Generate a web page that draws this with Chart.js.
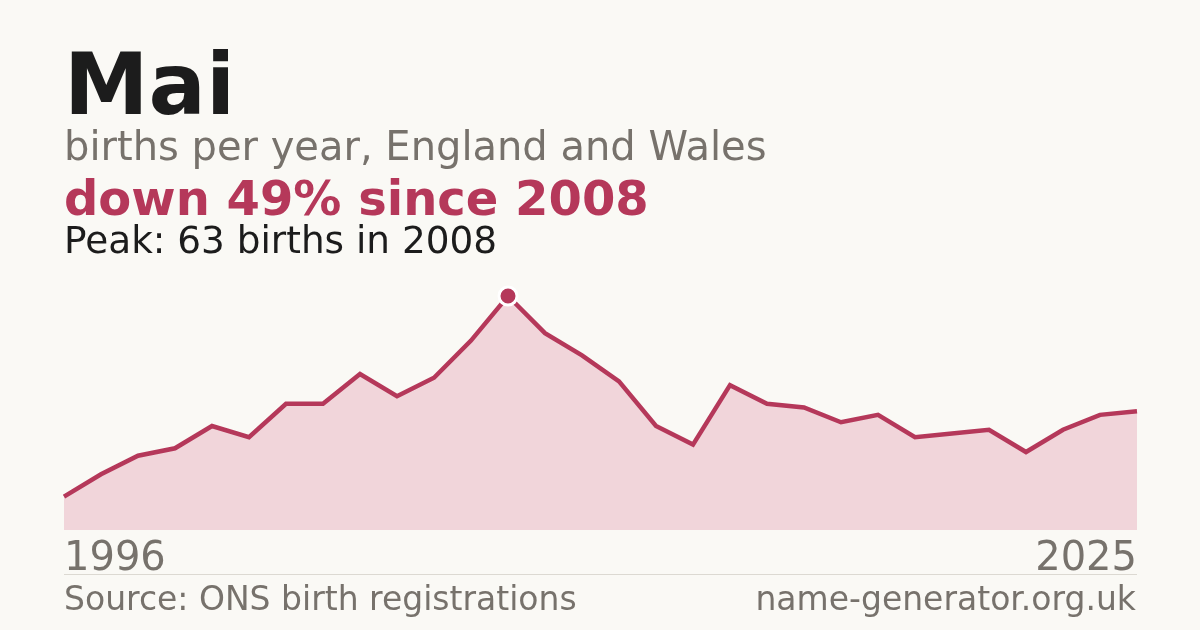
<!DOCTYPE html>
<html>
<head>
  <title>Mai - births per year</title>
  <script src="https://cdn.jsdelivr.net/npm/chart.js"></script>
  <style>
    html, body { margin: 0; padding: 0; }
    body { width: 1200px; height: 630px; background: #faf9f5; font-family: "DejaVu Sans", sans-serif; position: relative; overflow: hidden; }
    .t { position: absolute; left: 64px; white-space: nowrap; line-height: 1; }
    #title { top: 42px; font-size: 85px; font-weight: bold; color: #1c1c1c; }
    #sub { top: 126px; font-size: 40px; color: #77726c; }
    #change { top: 174px; font-size: 48px; font-weight: bold; color: #b5385a; }
    #peak { top: 222px; font-size: 37.4px; color: #1c1c1c; }
    #rule { position: absolute; left: 64px; width: 1073px; top: 574px; height: 1px; background: #dcd9d2; }
    #src { top: 582px; font-size: 33px; color: #77726c; }
    #site { top: 582px; left: auto; right: 64px; font-size: 33px; color: #77726c; }
    #wrap { position: absolute; left: 0; top: 0; width: 1200px; height: 630px; }
  </style>
</head>
<body>
  <div id="wrap"><canvas id="chart" width="1200" height="630"></canvas></div>
  <div class="t" id="title">Mai</div>
  <div class="t" id="sub">births per year, England and Wales</div>
  <div class="t" id="change">down 49% since 2008</div>
  <div class="t" id="peak">Peak: 63 births in 2008</div>
  <div id="rule"></div>
  <div class="t" id="src">Source: ONS birth registrations</div>
  <div class="t" id="site">name-generator.org.uk</div>

  <script>
    const years = [1996, 1997, 1998, 1999, 2000, 2001, 2002, 2003, 2004, 2005,
                   2006, 2007, 2008, 2009, 2010, 2011, 2012, 2013, 2014, 2015,
                   2016, 2017, 2018, 2019, 2020, 2021, 2022, 2023, 2024, 2025];
    const births = [9, 15, 20, 22, 28, 25, 34, 34, 42, 36,
                    41, 51, 63, 53, 47, 40, 28, 23, 39, 34,
                    33, 29, 31, 25, 26, 27, 21, 27, 31, 32];
    const shownYears = [1996, 2025];

    const peakIdx = births.indexOf(Math.max(...births));

    new Chart(document.getElementById('chart'), {
      type: 'line',
      data: {
        labels: years,
        datasets: [{
          data: births,
          borderColor: '#b5385a',
          borderWidth: 4.5,
          backgroundColor: '#f1d5da',
          fill: 'origin',
          tension: 0,
          pointRadius: births.map((_, i) => i === peakIdx ? 9 : 0),
          pointBackgroundColor: '#b5385a',
          pointBorderColor: '#ffffff',
          pointBorderWidth: 3
        }]
      },
      options: {
        responsive: false,
        animation: false,
        events: [],
        layout: { padding: { left: 64, right: 63, top: 270, bottom: 0 } },
        plugins: { legend: { display: false }, tooltip: { enabled: false } },
        scales: {
          x: {
            grid: { display: false, drawTicks: false },
            border: { display: false },
            afterFit(scale) { scale.height = 100; },
            ticks: {
              autoSkip: false,
              maxRotation: 0,
              align: 'inner',
              padding: 6,
              color: '#77726c',
              font: { family: 'DejaVu Sans', size: 40 },
              callback(val, i) {
                const y = years[i];
                return shownYears.includes(y) ? String(y) : '';
              }
            }
          },
          y: {
            display: false,
            min: 0,
            max: 70
          }
        }
      }
    });
  </script>
</body>
</html>
